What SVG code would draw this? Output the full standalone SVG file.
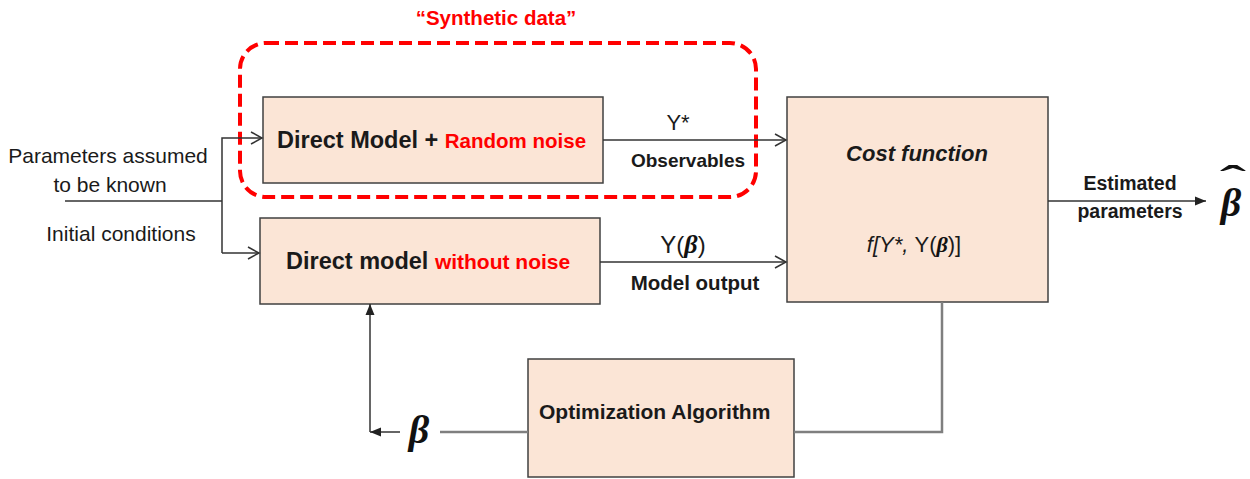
<svg xmlns="http://www.w3.org/2000/svg" width="1250" height="479" viewBox="0 0 1250 479">
<style>
.box{fill:#FBE5D6;stroke:#404040;stroke-width:1.5}
.t{font-family:"Liberation Sans",Arial,sans-serif;fill:#1a1a1a}
.b{font-weight:bold}
.red{fill:#FF0000}
.ln{fill:none;stroke:#333;stroke-width:1.5}
.gl{fill:none;stroke:#7f7f7f;stroke-width:2.5}
.gk{font-family:"Liberation Serif","DejaVu Serif",serif;font-weight:bold;font-style:italic;fill:#111}
</style>
<defs>
<marker id="open" markerWidth="14" markerHeight="14" refX="12" refY="7" orient="auto" markerUnits="userSpaceOnUse">
<path d="M1,1 L12,7 L1,13" fill="none" stroke="#333" stroke-width="1.5"/>
</marker>
<marker id="fill" markerWidth="12" markerHeight="12" refX="11" refY="6" orient="auto" markerUnits="userSpaceOnUse">
<path d="M0,1.5 L11,6 L0,10.5 Z" fill="#222"/>
</marker>
</defs>
<rect width="1250" height="479" fill="#fff"/>

<g id="synthetic-group">
<rect x="240" y="43" width="516" height="154" rx="26" fill="none" stroke="#FF0000" stroke-width="4" stroke-dasharray="13 6"/>
<text x="496" y="25" text-anchor="middle" class="t b red" font-size="20.5">“Synthetic data”</text>
</g>

<g id="inputs">
<text x="108" y="163" text-anchor="middle" class="t" font-size="21">Parameters assumed</text>
<text x="110" y="192" text-anchor="middle" class="t" font-size="21">to be known</text>
<text x="121" y="241" text-anchor="middle" class="t" font-size="21">Initial conditions</text>
</g>

<g id="direct-model-noise">
<rect class="box" x="263" y="97" width="340" height="86"/>
<text x="277" y="148" class="t b" font-size="23.5">Direct Model + <tspan class="red" font-size="20.5">Random noise</tspan></text>
</g>

<g id="direct-model">
<rect class="box" x="260" y="218" width="340" height="86"/>
<text x="286" y="269" class="t b" font-size="23.5">Direct model <tspan class="red" font-size="21">without noise</tspan></text>
</g>

<g id="cost-function">
<rect class="box" x="787" y="97" width="261" height="205"/>
<text x="917" y="161" text-anchor="middle" class="t b" font-style="italic" font-size="22">Cost function</text>
<text x="914" y="252" text-anchor="middle" class="t" font-size="22"><tspan font-style="italic">f[Y*, </tspan>Y(<tspan class="gk">β</tspan>)]</text>
</g>

<g id="optimization">
<rect class="box" x="528" y="359" width="266" height="118"/>
<text x="539" y="419" class="t b" font-size="21">Optimization Algorithm</text>
</g>

<g id="connectors">
<polyline class="ln" points="65,201 222,201"/>
<polyline class="ln" points="222,253 222,138 262,138" marker-end="url(#open)"/>
<polyline class="ln" points="222,253 259,253" marker-end="url(#open)"/>
<line class="ln" x1="603" y1="140" x2="786" y2="140" marker-end="url(#open)"/>
<line class="ln" x1="600" y1="262" x2="786" y2="262" marker-end="url(#open)"/>
<line class="ln" x1="1048" y1="201" x2="1206" y2="201" marker-end="url(#fill)"/>
<polyline class="gl" points="942,302 942,432 794,432"/>
<line class="gl" x1="528" y1="432" x2="440" y2="432"/>
<line class="ln" x1="400" y1="432" x2="370" y2="432" stroke-width="2" marker-end="url(#fill)"/>
<line class="ln" x1="370" y1="432" x2="370" y2="304" stroke-width="2" marker-end="url(#fill)"/>
</g>

<g id="labels">
<text x="678" y="130" text-anchor="middle" class="t" font-size="22">Y*</text>
<text x="688" y="167" text-anchor="middle" class="t b" font-size="19">Observables</text>
<text x="683" y="253" text-anchor="middle" class="t" font-size="24">Y(<tspan class="gk" font-size="26">β</tspan>)</text>
<text x="695" y="290" text-anchor="middle" class="t b" font-size="20.5">Model output</text>
<text x="1130" y="190" text-anchor="middle" class="t b" font-size="19.5">Estimated</text>
<text x="1130" y="218" text-anchor="middle" class="t b" font-size="19.5">parameters</text>
<text x="1231" y="216" text-anchor="middle" class="gk" font-size="40">β</text>
<text transform="translate(1233,191) scale(2.2,1)" text-anchor="middle" font-family="Liberation Serif, serif" font-weight="bold" font-size="36" fill="#111">ˆ</text>
<text x="419" y="443" text-anchor="middle" class="gk" font-size="40">β</text>
</g>
</svg>
